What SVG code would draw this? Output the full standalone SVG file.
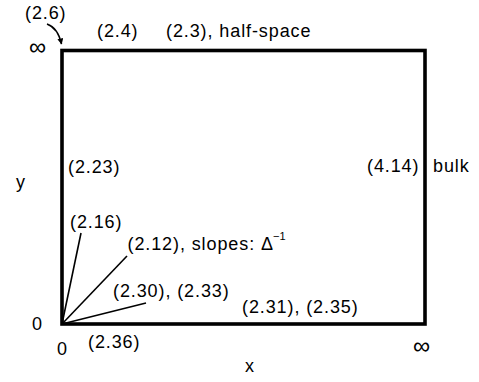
<svg xmlns="http://www.w3.org/2000/svg" width="479" height="382" viewBox="0 0 479 382">
<defs>
<style>
text{font-family:"Liberation Sans",Arial,sans-serif;font-size:18px;letter-spacing:0.9px;fill:#000}
.inf{font-size:24px;letter-spacing:0}
.sup{font-size:11px;letter-spacing:0}
.ray{stroke:#000;stroke-width:1.6;fill:none}
</style>
<marker id="ah" viewBox="0 0 10 10" refX="9" refY="5" markerWidth="6" markerHeight="6" orient="auto" markerUnits="userSpaceOnUse">
<path d="M0,0 L10,5 L0,10 z" fill="#000"/>
</marker>
</defs>
<rect width="479" height="382" fill="#fff"/>
<g id="domain">
<rect x="62" y="50.5" width="363" height="273.5" fill="none" stroke="#000" stroke-width="3.6"/>
</g>
<g id="connectors">
<line class="ray" x1="62" y1="324" x2="81" y2="233"/>
<line class="ray" x1="62" y1="324" x2="127" y2="256"/>
<line class="ray" x1="62" y1="324" x2="146" y2="303"/>
<path class="ray" d="M47,24 Q58,28 61.5,44" stroke-width="1.3" marker-end="url(#ah)"/>
</g>
<g id="labels">
<text x="25" y="19">(2.6)</text>
<text class="inf" x="29" y="55">∞</text>
<text x="97" y="37">(2.4)</text>
<text x="166" y="37">(2.3), half-space</text>
<text x="68" y="173">(2.23)</text>
<text x="16" y="188">y</text>
<text x="367" y="172">(4.14)</text>
<text x="433" y="172">bulk</text>
<text x="70" y="228">(2.16)</text>
<text x="127.5" y="250">(2.12), slopes: Δ</text>
<text class="sup" x="273" y="240">−1</text>
<text x="113" y="297">(2.30), (2.33)</text>
<text x="242" y="313">(2.31), (2.35)</text>
<text x="32" y="330">0</text>
<text x="57" y="355">0</text>
<text x="88" y="348">(2.36)</text>
<text x="245" y="372">x</text>
<text class="inf" x="413" y="354">∞</text>
</g>
</svg>
